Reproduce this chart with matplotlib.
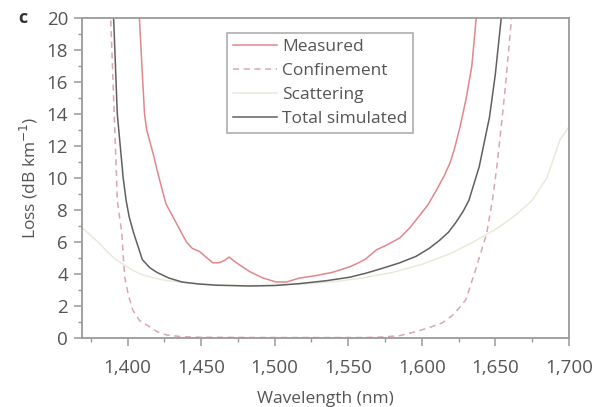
import matplotlib.pyplot as plt
from matplotlib.ticker import FuncFormatter, MultipleLocator

# values (wavelength in nm, loss in dB/km)
measured_wl = [1407, 1408, 1411.5, 1413, 1418, 1420, 1426, 1433, 1440, 1444, 1449,
               1454, 1458, 1462, 1466, 1469, 1474, 1483, 1492, 1501, 1508, 1517,
               1528, 1539, 1551, 1557, 1562, 1569, 1577, 1585, 1592, 1598, 1604,
               1610, 1615, 1619, 1622, 1626, 1630, 1634, 1637, 1640]
measured_loss = [22, 20, 14, 13, 11.3, 10.5, 8.4, 7.2, 6.0, 5.6, 5.4,
                 5.0, 4.7, 4.7, 4.85, 5.06, 4.7, 4.15, 3.75, 3.5, 3.5, 3.75,
                 3.9, 4.1, 4.45, 4.7, 4.95, 5.5, 5.85, 6.25, 6.9, 7.6, 8.3,
                 9.25, 10.1, 10.9, 11.75, 13.2, 14.9, 17.0, 20, 22]

confinement_wl = [1388, 1388.5, 1392.5, 1393, 1396, 1398, 1400.5, 1403.5, 1408, 1415,
                  1420, 1426, 1435, 1445, 1500, 1560, 1573, 1585, 1596, 1605,
                  1614, 1622, 1630, 1637, 1644, 1648, 1651, 1654, 1657, 1661, 1662]
confinement_loss = [22, 20, 10, 8.6, 6.6, 3.8, 2.7, 1.75, 1.1, 0.7,
                    0.4, 0.2, 0.1, 0.05, 0.03, 0.03, 0.06, 0.15, 0.4, 0.65,
                    0.95, 1.5, 2.4, 4.4, 6.5, 8.6, 10.7, 13.2, 15.9, 20, 22]

scattering_wl = [1369, 1375, 1381, 1386, 1392, 1398, 1403, 1410, 1418, 1426, 1440,
                 1460, 1480, 1500, 1520, 1540, 1560, 1580, 1600, 1620, 1635,
                 1652, 1664, 1675, 1685, 1694, 1700]
scattering_loss = [6.9, 6.4, 5.9, 5.4, 4.9, 4.55, 4.25, 3.95, 3.75, 3.6, 3.45,
                   3.32, 3.28, 3.3, 3.38, 3.52, 3.75, 4.1, 4.6, 5.3, 6.0,
                   6.9, 7.7, 8.6, 10.0, 12.4, 13.2]

total_wl = [1389.5, 1390.5, 1393, 1397, 1399, 1401, 1404, 1410, 1415, 1420, 1428,
            1437, 1448, 1460, 1483, 1500, 1517, 1535, 1551, 1562, 1573, 1585,
            1596, 1605, 1612, 1618, 1623, 1628, 1632, 1639, 1646, 1650, 1654, 1655]
total_loss = [22, 20, 14, 10, 8.6, 7.6, 6.6, 4.9, 4.4, 4.1, 3.75,
              3.5, 3.38, 3.3, 3.25, 3.28, 3.4, 3.58, 3.8, 4.05, 4.35, 4.7,
              5.1, 5.6, 6.1, 6.6, 7.2, 7.9, 8.6, 10.7, 13.8, 16.5, 20, 22]

x_ticks = [1400, 1450, 1500, 1550, 1600, 1650, 1700]
y_ticks = [0, 2, 4, 6, 8, 10, 12, 14, 16, 18, 20]

plt.rcParams["font.family"] = ["Open Sans", "DejaVu Sans"]
text_col = "#555555"
spine_col = "#9a9a9a"

fig = plt.figure(figsize=(5.92, 4.07), dpi=100)
ax = fig.add_axes([0.1385, 0.1695, 0.8225, 0.7863])

ax.plot(measured_wl, measured_loss, color="#e2868d", lw=1.1, label="Measured")
ax.plot(confinement_wl, confinement_loss, color="#d8a8b0", lw=1.1,
        linestyle=(0, (4, 3)), label="Confinement")
ax.plot(scattering_wl, scattering_loss, color="#e8ebda", lw=1.1, label="Scattering")
ax.plot(total_wl, total_loss, color="#606060", lw=1.1, label="Total simulated")

ax.set_xlim(1369, 1700)
ax.set_ylim(0, 20)
ax.set_xticks(x_ticks)
ax.set_yticks(y_ticks)
ax.xaxis.set_minor_locator(MultipleLocator(25))
ax.yaxis.set_minor_locator(MultipleLocator(1))
ax.xaxis.set_major_formatter(FuncFormatter(lambda v, p: f"{int(v):,}"))

for s in ax.spines.values():
    s.set_color(spine_col)
    s.set_linewidth(1.3)
ax.tick_params(which="major", direction="out", length=6, width=1.1,
               color=spine_col, labelcolor=text_col, labelsize=13.5)
ax.tick_params(which="minor", direction="out", length=3, width=1.0, color=spine_col)
ax.tick_params(axis="x", which="major", pad=9)
ax.tick_params(axis="y", which="major", pad=4)
ax.tick_params(axis="x", which="both", top=False)
ax.tick_params(axis="y", which="both", right=False)

ax.set_xlabel("Wavelength (nm)", color=text_col, fontsize=12.5, labelpad=10)
ax.set_ylabel("Loss (dB km$^{-1}$)", color=text_col, fontsize=12.5, labelpad=5)

leg = ax.legend(loc="upper left", bbox_to_anchor=(0.298, 0.953), fontsize=12.5,
                frameon=True, fancybox=False, handlelength=2.5, handletextpad=0.3,
                borderpad=0.35, labelspacing=0.45, borderaxespad=0)
leg.get_frame().set_edgecolor(spine_col)
leg.get_frame().set_linewidth(1.2)
for t in leg.get_texts():
    t.set_color(text_col)

fig.text(0.03, 0.955, "c", fontsize=13, fontweight="bold", color="#333333",
         va="center")

fig.savefig("out.png", dpi=100)
